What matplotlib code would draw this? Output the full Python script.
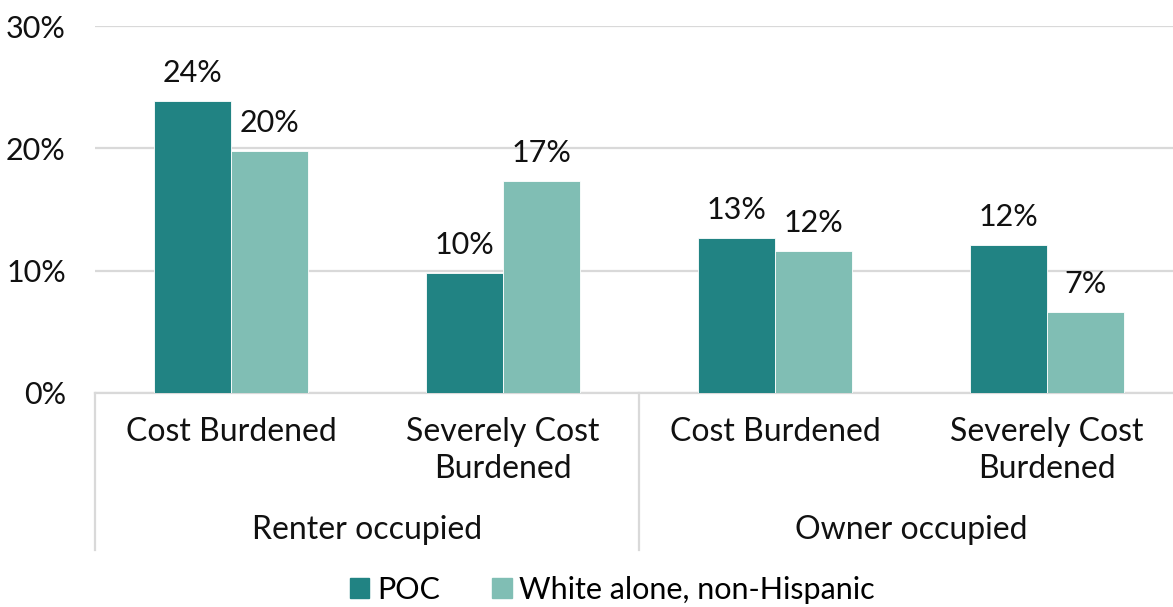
import matplotlib
matplotlib.use("Agg")
import matplotlib.pyplot as plt
import matplotlib.transforms as mtransforms
from matplotlib.patches import Patch
import numpy as np

# values (percent)
categories = ["Cost Burdened", "Severely Cost\nBurdened", "Cost Burdened", "Severely Cost\nBurdened"]
groups = ["Renter occupied", "Owner occupied"]
poc = [23.9, 9.8, 12.7, 12.1]
white = [19.8, 17.3, 11.6, 6.6]
series_names = ["POC", "White alone, non-Hispanic"]
yticks = [0, 10, 20, 30]

plt.rcParams['font.family'] = ['Lato', 'DejaVu Sans']

dark = "#218383"
light = "#80beb4"
grid_c = "#d9d9d9"
fs = 22
fs_cat = 23

fig = plt.figure(figsize=(11.73, 6.07), dpi=100)
ax = fig.add_axes([95/1173, 1-393/607, 1-95/1173, (393-26)/607])

x = np.arange(len(categories))
w = 0.283
b1 = ax.bar(x - w/2, poc, w, color=dark, edgecolor="white", linewidth=0.6, zorder=3)
b2 = ax.bar(x + w/2, white, w, color=light, edgecolor="white", linewidth=0.6, zorder=3)

for bars, vals in ((b1, poc), (b2, white)):
    for r, v in zip(bars, vals):
        ax.annotate("%d%%" % int(v + 0.5), (r.get_x() + r.get_width()/2, v),
                    xytext=(0, 10), textcoords="offset points",
                    ha="center", va="bottom", fontsize=fs, color="#111111")

ax.set_ylim(0, 30)
ax.set_xlim(-0.5, -0.5 + 1078/272)
ax.set_yticks(yticks)
ax.set_yticklabels(["%d%%" % t for t in yticks], fontsize=fs, color="#111111")
ax.tick_params(axis="y", length=0, pad=21)
ax.set_xticks([])
ax.grid(axis="y", color=grid_c, linewidth=1.6, zorder=0)
for s in ["top", "right", "left"]:
    ax.spines[s].set_visible(False)
ax.spines["bottom"].set_color(grid_c)
ax.spines["bottom"].set_linewidth(1.6)

trans = mtransforms.blended_transform_factory(ax.transData, ax.transAxes)
# category separators
for sx in [-0.5, 1.5, 3.5]:
    ax.plot([sx, sx], [0, -0.428], transform=trans, color=grid_c, lw=1.6, clip_on=False)

for xi, lab in zip(x, categories):
    ax.text(xi, -0.066, lab, transform=trans, ha="center", va="top",
            fontsize=fs_cat, color="#111111", linespacing=1.3)
for gi, g in enumerate(groups):
    ax.text(0.5 + 2*gi, -0.373, g, transform=trans, ha="center", va="center",
            fontsize=fs_cat, color="#111111")

handles = [Patch(color=dark), Patch(color=light)]
fig.legend(handles, series_names, loc="center", bbox_to_anchor=(0.522, 1-590/607),
           ncol=2, frameon=False, fontsize=fs, handlelength=0.65, handleheight=0.65,
           handletextpad=0.25, columnspacing=1.7)

fig.savefig("out.png", dpi=100)
